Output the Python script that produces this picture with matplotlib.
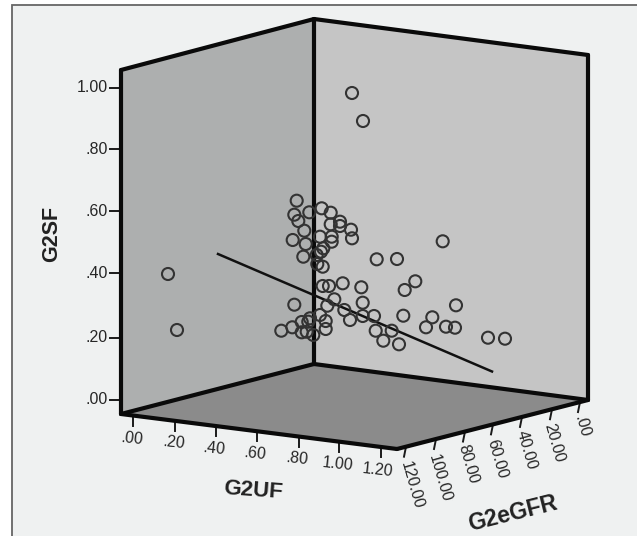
import numpy as np
import matplotlib
matplotlib.use('Agg')
import matplotlib.pyplot as plt
from matplotlib.patches import Polygon, Rectangle

plt.rcParams['font.family'] = ['Liberation Sans', 'DejaVu Sans']

# Points as seen on the picture (the chart is a projected 3D box)
point_x = [352, 363, 168, 177, 296.7, 294.3, 298.3, 309.3, 321.7, 330.7, 330.7, 340, 340, 351, 352,
           304.3, 292.7, 305.7, 320, 331.7, 331.7, 323.3, 321, 303.3, 316.7, 317.3, 322.7, 376.7,
           322.7, 329, 342.7, 361.3, 294.3, 334.3, 327.3, 362.7, 320, 325.7, 325.7, 344.3, 350,
           362.7, 374, 375.7, 383.3, 281.3, 292.3, 301.7, 308.3, 301.7, 306.7, 313.3, 310,
           442.7, 397, 415.3, 404.7, 456, 403.3, 432.3, 426, 446, 455, 488, 505, 391.7, 399]
point_y = [93, 121, 274, 330, 200.7, 214.7, 221, 212.3, 208.3, 212.7, 224.3, 221.7, 226, 229.7, 238.3,
           230.7, 240, 244, 236.7, 236.7, 241.7, 248.3, 251.7, 256.7, 255, 264, 266.7, 259.3,
           286, 286, 283.3, 287.3, 304.7, 299.3, 305.7, 302.7, 315, 321, 329, 310, 320,
           316, 316, 330.7, 340.7, 330.7, 327.3, 322, 321.7, 332.3, 331.7, 335, 318.3,
           241.3, 259, 281.3, 290, 305.3, 315.7, 317.3, 327.3, 326.7, 327.7, 337.7, 338.7, 330.7, 344.3]

fit_x = [218, 492]
fit_y = [254, 371.5]

# Box corners
left_top = (121, 70)
back_top = (314, 19)
right_top = (588, 55)
left_bottom = (121, 414)
back_bottom = (314, 364)
right_bottom = (588, 400)
front_bottom = (397, 449)

# Axis labels and tick places
sf_labels = ['1.00', '.80', '.60', '.40', '.20', '.00']
sf_tick_y = [88, 149, 211, 273, 338, 400]

uf_labels = ['.00', '.20', '.40', '.60', '.80', '1.00', '1.20']
uf_tick_x = [133.3, 175, 216, 257.3, 298.7, 339.3, 380.7]
uf_label_x = [132, 174, 214, 255, 297, 338, 378]
uf_label_y = [439, 443, 449, 454, 459, 464, 470]

gfr_labels = ['.00', '20.00', '40.00', '60.00', '80.00', '100.00', '120.00']
gfr_tick_x = [580, 552, 522, 493, 465, 436, 406]
gfr_label_x = [582, 554, 526, 497, 468, 440, 412]
gfr_label_y = [426, 443, 450, 459, 464, 478, 485]

fig = plt.figure(figsize=(6.37, 5.36), dpi=100, facecolor='white')
ax = fig.add_axes([0, 0, 1, 1])
ax.set_xlim(0, 637)
ax.set_ylim(536, 0)
ax.axis('off')

# Chart area, open at the right and bottom of the picture
ax.add_patch(Rectangle((12, 5), 640, 540, facecolor='#eff1f1', edgecolor='#666666', lw=1.3))

# Walls and floor
ax.add_patch(Polygon([left_top, back_top, back_bottom, left_bottom], facecolor='#adafaf', edgecolor='none'))
ax.add_patch(Polygon([back_top, right_top, right_bottom, back_bottom], facecolor='#c5c5c5', edgecolor='none'))
ax.add_patch(Polygon([left_bottom, back_bottom, right_bottom, front_bottom], facecolor='#8b8b8b', edgecolor='none'))

edges = [(left_bottom, left_top), (left_top, back_top), (back_top, right_top), (right_top, right_bottom),
         (back_top, back_bottom), (back_bottom, left_bottom), (back_bottom, right_bottom),
         (left_bottom, front_bottom), (front_bottom, right_bottom)]
for a, b in edges:
    ax.plot([a[0], b[0]], [a[1], b[1]], color='#0a0a0a', lw=3, solid_capstyle='round', zorder=3)

# Ticks and labels
for lab, y in zip(sf_labels, sf_tick_y):
    ax.plot([110, 121], [y, y], color='#1a1a1a', lw=1.4)
    ax.text(108, y, lab, ha='right', va='center', fontsize=11.5, color='#262626')

for lab, x, lx, ly in zip(uf_labels, uf_tick_x, uf_label_x, uf_label_y):
    y = 414 + (x - 121) * 35 / 276
    ax.plot([x, x], [y, y + 10], color='#1a1a1a', lw=1.4)
    ax.text(lx, ly, lab, ha='center', va='center', rotation=-6, fontsize=11.5, color='#262626')

for lab, x, lx, ly in zip(gfr_labels, gfr_tick_x, gfr_label_x, gfr_label_y):
    y = 449 - (x - 397) * 49 / 191
    ax.plot([x, x - 2], [y, y + 10], color='#1a1a1a', lw=1.4)
    ax.text(lx, ly, lab, ha='center', va='center', rotation=-74, fontsize=11.5, color='#262626')

ax.text(253, 491, 'G2UF', ha='center', va='center', rotation=-4, fontsize=16, fontweight='bold', color='#222222')
ax.text(513, 514, 'G2eGFR', ha='center', va='center', rotation=14, fontsize=16.5, fontweight='bold', color='#222222')
ax.text(52, 234, 'G2SF', ha='center', va='center', rotation=90, fontsize=15.5, fontweight='bold', color='#222222')

# Data
ax.plot(fit_x, fit_y, color='#111111', lw=1.8, zorder=4)
ax.scatter(point_x, point_y, s=75, facecolors='none', edgecolors='#333333', linewidths=1.5, zorder=5)

fig.savefig('out.png', dpi=100)
